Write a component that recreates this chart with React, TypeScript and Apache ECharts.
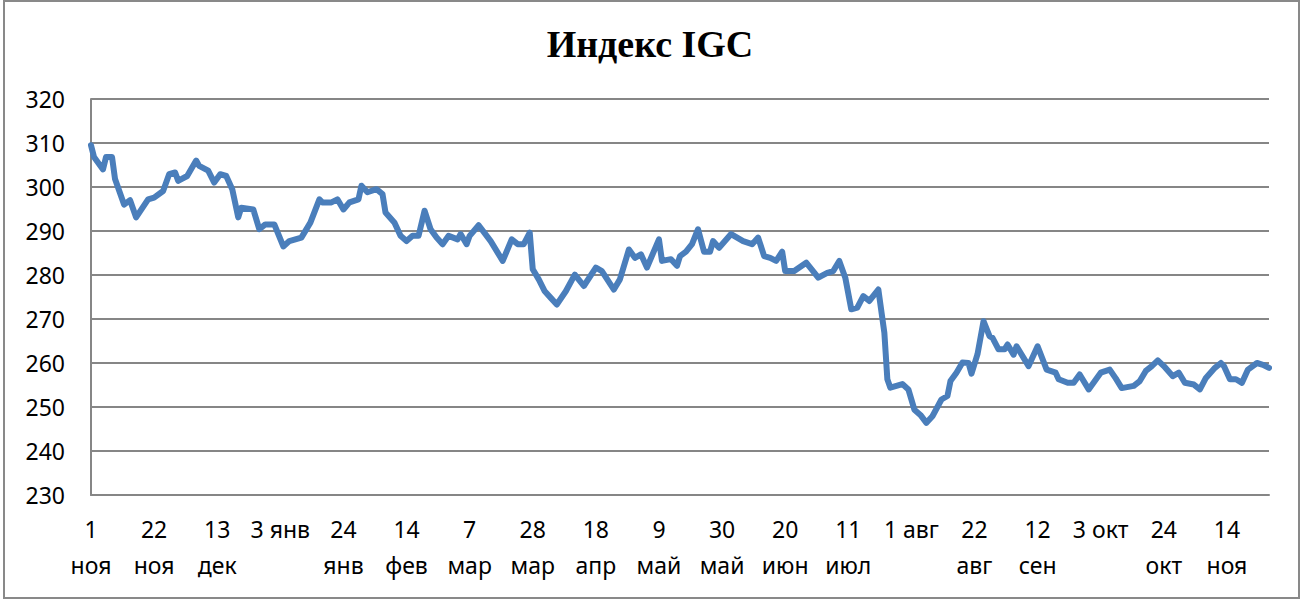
import React, { useEffect, useRef } from "react";
import * as echarts from "echarts";

const titleText = "Индекс IGC";

// days since 1 ноя (start of the period)
const days = [
  0, 1, 4, 5, 7, 8, 11, 13, 15, 19, 21, 24, 26, 28, 29, 32, 35, 36, 39, 41,
  43, 45, 47, 49, 50, 54, 56, 58, 61, 64, 66, 70, 73, 76, 77, 80, 82, 84, 86, 89,
  90, 92, 95, 97, 98, 101, 103, 105, 107, 109, 111, 113, 115, 117, 119, 122, 123, 125, 126, 129,
  133, 137, 140, 142, 144, 146, 147, 149, 151, 153, 155, 158, 161, 164, 168, 170, 174, 176, 179, 181,
  183, 185, 189, 190, 193, 195, 196, 198, 200, 202, 204, 206, 207, 209, 213, 217, 220, 222, 224, 226,
  228, 230, 231, 234, 238, 242, 245, 247, 249, 251, 253, 255, 257, 259, 262, 264, 265, 266, 270, 272,
  274, 276, 278, 280, 283, 285, 286, 288, 290, 292, 293, 295, 297, 299, 300, 302, 304, 305, 307, 308,
  312, 315, 318, 321, 322, 325, 327, 329, 332, 336, 339, 341, 343, 347, 349, 351, 353, 355, 357, 360,
  362, 364, 367, 369, 371, 374, 376, 377, 379, 381, 383, 385, 388, 390, 392,
];

const values = [
  309.5, 306.8, 304, 306.8, 306.8, 301.8, 296, 297, 293.1, 297.2, 297.6, 299.1, 302.9, 303.3, 301.4, 302.5, 306, 304.8, 303.7, 301,
  302.9, 302.5, 299.5, 293.1, 295.3, 294.9, 290.4, 291.5, 291.5, 286.5, 287.7, 288.5, 291.9, 297.2, 296.5, 296.5, 297.2, 294.9, 296.5, 297.2,
  300.3, 298.8, 299.5, 298.4, 294.2, 291.9, 288.9, 287.7, 288.9, 288.9, 294.6, 290.4, 288.5, 287, 288.9, 288.1, 289.3, 287, 288.9, 291.3,
  287.7, 283.2, 288.1, 287, 287, 289.6, 281.3, 279, 276.3, 274.8, 273.3, 276.3, 280.1, 277.5, 281.7, 280.9, 276.7, 279, 285.8, 283.9,
  284.7, 281.7, 288.1, 283.2, 283.6, 282.1, 284.3, 285.3, 287, 290.4, 285.3, 285.3, 287.7, 286.2, 289.3, 287.7, 287, 288.5, 284.3, 283.9,
  283.2, 285.3, 280.9, 280.9, 282.8, 279.4, 280.5, 280.9, 283.2, 279.4, 272.2, 272.6, 275.2, 274.1, 276.7, 266.9, 256.3, 254.4, 255.2, 254,
  249.4, 248.2, 246.4, 247.9, 251.7, 252.5, 255.9, 257.8, 260.1, 260, 257.6, 262, 269.5, 266.1, 265.7, 263.1, 263.1, 264.2, 261.9, 263.8,
  259.3, 263.8, 258.5, 257.8, 256.3, 255.5, 255.5, 257.4, 254, 257.8, 258.5, 256.5, 254.3, 254.8, 255.9, 258.2, 259.3, 260.6, 259.3, 257,
  257.8, 255.5, 255.1, 254, 256.6, 258.9, 260, 259.3, 256.3, 256.3, 255.5, 258.5, 260, 259.6, 258.9,
];

// one label every 21 days
const tickLabels = [
  "1\nноя", "22\nноя", "13\nдек", "3 янв", "24\nянв", "14\nфев", "7\nмар", "28\nмар",
  "18\nапр", "9\nмай", "30\nмай", "20\nиюн", "11\nиюл", "1 авг", "22\nавг", "12\nсен",
  "3 окт", "24\nокт", "14\nноя",
];

const tickStep = 21;
const dayMax = 392;
const yMin = 230;
const yMax = 320;
const yStep = 10;

export default function App() {
  const ref = useRef<HTMLDivElement>(null);

  useEffect(() => {
    if (!ref.current) return;
    const chart = echarts.init(ref.current, undefined, { renderer: "svg" });
    const gray = "#868686";
    const labelFont = "'Noto Sans', sans-serif";
    chart.setOption({
      animation: false,
      backgroundColor: "#ffffff",
      title: {
        text: titleText,
        left: "center",
        top: 25,
        padding: 0,
        textStyle: {
          fontFamily: "'Liberation Serif', 'Times New Roman', serif",
          fontWeight: "bold",
          fontSize: 38,
          color: "#000000",
        },
      },
      graphic: [
        {
          type: "rect",
          shape: { x: 4, y: 1, width: 1295, height: 597 },
          style: { fill: "none", stroke: "#898989", lineWidth: 2 },
          silent: true,
        },
      ],
      grid: { left: 91, right: 31, top: 99, bottom: 108, containLabel: false },
      xAxis: {
        type: "value",
        min: 0,
        max: dayMax,
        interval: tickStep,
        axisLine: { show: true, lineStyle: { color: gray, width: 2 } },
        axisTick: { show: false },
        splitLine: { show: false },
        axisLabel: {
          margin: 16,
          fontFamily: labelFont,
          fontSize: 23,
          color: "#000000",
          lineHeight: 36,
          showMaxLabel: false,
          formatter: (v: number) => {
            if (v % tickStep !== 0) return "";
            const i = v / tickStep;
            return tickLabels[i] ?? "";
          },
        },
      },
      yAxis: {
        type: "value",
        min: yMin,
        max: yMax,
        interval: yStep,
        axisLine: { show: true, lineStyle: { color: gray, width: 2 } },
        axisTick: { show: false },
        splitLine: { show: true, lineStyle: { color: gray, width: 2 } },
        axisLabel: {
          margin: 26,
          fontFamily: labelFont,
          fontSize: 23,
          color: "#000000",
        },
      },
      series: [
        {
          type: "line",
          data: days.map((d, i) => [d, values[i]]),
          showSymbol: false,
          symbol: "none",
          lineStyle: { color: "#4a7ebb", width: 6, join: "round", cap: "round" },
        },
      ],
    });
    return () => chart.dispose();
  }, []);

  return (
    <div
      ref={ref}
      style={{ position: "fixed", left: 0, top: 0, width: 1300, height: 603 }}
    />
  );
}
